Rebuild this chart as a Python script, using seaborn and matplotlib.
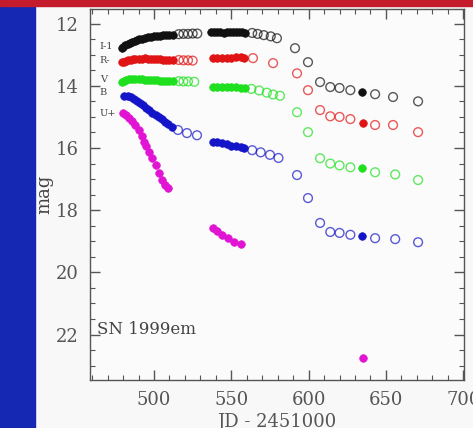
import matplotlib
matplotlib.use("Agg")
import matplotlib.pyplot as plt
from matplotlib.patches import Rectangle
from matplotlib.ticker import MultipleLocator
import seaborn as sns
import pandas as pd

# ---------------- data (JD - 2451000, magnitude) ----------------
I_fill_jd = [479, 480, 481.5, 483, 484.5, 486, 487.5, 489, 490.5, 492, 494, 496, 498, 500, 502, 504, 506, 508, 510, 512,
             537, 539, 541, 543, 545, 547, 549, 551, 553, 555, 557, 559, 634.5]
I_fill_mag = [12.78, 12.74, 12.70, 12.66, 12.62, 12.59, 12.56, 12.53, 12.50, 12.48, 12.46, 12.44, 12.42, 12.41, 12.40, 12.39, 12.38, 12.37, 12.36, 12.35,
              12.28, 12.28, 12.27, 12.28, 12.29, 12.28, 12.27, 12.28, 12.28, 12.27, 12.28, 12.29, 14.20]
I_open_jd = [516, 519, 522, 525, 528, 563.5, 567, 571, 575.5, 579.5, 591.2, 599.6, 607.4, 614, 620, 627, 643, 654.6, 670.8]
I_open_mag = [12.34, 12.33, 12.33, 12.32, 12.32, 12.30, 12.33, 12.37, 12.41, 12.47, 12.79, 13.24, 13.88, 14.04, 14.07, 14.14, 14.27, 14.36, 14.50]

R_fill_jd = [479, 480.5, 482, 483.5, 485, 486.5, 488, 490, 492, 494, 496, 498, 500, 502, 504, 506, 508, 510, 512,
             538, 541, 544, 547, 550, 553, 556, 558, 635]
R_fill_mag = [13.25, 13.22, 13.20, 13.18, 13.16, 13.15, 13.14, 13.13, 13.13, 13.12, 13.13, 13.14, 13.14, 13.15, 13.15, 13.16, 13.16, 13.17, 13.17,
              13.10, 13.09, 13.10, 13.10, 13.09, 13.08, 13.08, 13.10, 15.20]
R_open_jd = [516, 519, 522, 525, 564, 577, 592.5, 599.6, 607.4, 614, 620, 627, 643, 654.6, 670.8]
R_open_mag = [13.17, 13.18, 13.18, 13.19, 13.11, 13.27, 13.60, 14.14, 14.78, 14.98, 15.00, 15.07, 15.26, 15.26, 15.49]

V_fill_jd = [479, 480.5, 482, 484, 486, 488, 490, 492, 494, 496, 498, 500, 502, 504, 506, 508, 510, 512,
             538, 541, 544, 547, 550, 553, 556, 559, 634.5]
V_fill_mag = [13.88, 13.84, 13.81, 13.79, 13.78, 13.78, 13.79, 13.79, 13.80, 13.80, 13.81, 13.82, 13.82, 13.83, 13.83, 13.84, 13.84, 13.85,
              14.03, 14.03, 14.04, 14.04, 14.05, 14.05, 14.06, 14.06, 16.65]
V_open_jd = [516, 519, 522, 526, 563, 568, 573, 577, 581.5, 592.5, 599.6, 607.4, 614, 620, 627, 643, 656, 670.8]
V_open_mag = [13.85, 13.86, 13.86, 13.87, 14.10, 14.15, 14.22, 14.28, 14.32, 14.85, 15.49, 16.33, 16.50, 16.56, 16.62, 16.78, 16.85, 17.03]

B_fill_jd = [480.5, 483, 485, 487, 489, 491, 493, 495, 497, 499, 501, 503, 505, 507, 509, 511.5,
             538, 541, 544, 547, 550, 553, 556, 558, 634.5]
B_fill_mag = [14.32, 14.33, 14.37, 14.42, 14.48, 14.55, 14.62, 14.70, 14.79, 14.87, 14.94, 15.01, 15.08, 15.16, 15.24, 15.33,
              15.81, 15.82, 15.84, 15.88, 15.92, 15.95, 15.98, 16.01, 18.83]
B_open_jd = [515.5, 521.3, 527.8, 563.5, 569, 575, 580.5, 592.5, 599.6, 607.4, 614, 620, 627, 643, 656, 670.8]
B_open_mag = [15.42, 15.52, 15.59, 16.07, 16.14, 16.22, 16.32, 16.87, 17.61, 18.41, 18.70, 18.73, 18.79, 18.90, 18.93, 19.03]

U_fill_jd = [480, 482, 484, 486, 488, 490, 492, 493.5, 495, 497, 499, 501, 503, 505, 507, 509,
             538, 541, 544, 548, 552, 556, 635]
U_fill_mag = [14.88, 14.95, 15.03, 15.12, 15.25, 15.42, 15.62, 15.80, 15.95, 16.12, 16.33, 16.55, 16.80, 17.02, 17.18, 17.29,
              18.58, 18.68, 18.80, 18.90, 19.02, 19.09, 22.75]
U_open_jd = []
U_open_mag = []

bands = ["I", "R", "V", "B", "U"]
band_labels = ["I-1", "R-", "V", "B", "U+"]
band_label_mag = [12.72, 13.2, 13.8, 14.2, 14.88]
colors = {"I": "#111111", "R": "#e01414", "V": "#1ee01e", "B": "#1414c8", "U": "#e014d2"}

fill_data = {"I": (I_fill_jd, I_fill_mag), "R": (R_fill_jd, R_fill_mag), "V": (V_fill_jd, V_fill_mag),
             "B": (B_fill_jd, B_fill_mag), "U": (U_fill_jd, U_fill_mag)}
open_data = {"I": (I_open_jd, I_open_mag), "R": (R_open_jd, R_open_mag), "V": (V_open_jd, V_open_mag),
             "B": (B_open_jd, B_open_mag), "U": (U_open_jd, U_open_mag)}

rows = []
for b in bands:
    for j, m in zip(*fill_data[b]):
        rows.append({"band": b, "jd": j, "mag": m, "kind": "filled"})
    for j, m in zip(*open_data[b]):
        rows.append({"band": b, "jd": j, "mag": m, "kind": "open"})
df = pd.DataFrame(rows)

# ---------------- figure ----------------
sns.set_theme(style="ticks")
plt.rcParams["font.family"] = ["DejaVu Serif", "DejaVu Sans"]

fig = plt.figure(figsize=(4.73, 4.28), dpi=100, facecolor="#f8f8f8")
fig.patches.append(Rectangle((0, 0), 35 / 473, 1, transform=fig.transFigure, color="#1428b4", zorder=0))
fig.patches.append(Rectangle((0, 1 - 6 / 428), 1, 6 / 428, transform=fig.transFigure, color="#c41c2c", zorder=0))

ax = fig.add_axes([90 / 473, 1 - 380 / 428, 374 / 473, 371 / 428])
ax.set_facecolor("#fbfbfb")

for b in bands:
    sub_f = df[(df.band == b) & (df.kind == "filled")]
    sub_o = df[(df.band == b) & (df.kind == "open")]
    if len(sub_o):
        sns.scatterplot(data=sub_o, x="jd", y="mag", ax=ax, marker="o", s=40,
                        facecolor="none", edgecolor=colors[b], linewidth=1.0, alpha=0.7, legend=False)
    sns.scatterplot(data=sub_f, x="jd", y="mag", ax=ax, marker="o", s=30,
                    color=colors[b], edgecolor=colors[b], linewidth=0.5, legend=False)

for lab, m in zip(band_labels, band_label_mag):
    ax.text(465, m, lab, fontsize=7, color="#444444", va="center", ha="left")

ax.text(463, 21.85, "SN 1999em", fontsize=12, color="#444444", va="center", ha="left")

ax.set_xlim(458.6, 700.5)
ax.set_ylim(23.46, 11.53)
ax.xaxis.set_major_locator(MultipleLocator(50))
ax.xaxis.set_minor_locator(MultipleLocator(10))
ax.yaxis.set_major_locator(MultipleLocator(2))
ax.yaxis.set_minor_locator(MultipleLocator(0.5))
ax.tick_params(which="both", direction="in", top=True, right=True, color="#555555")
ax.tick_params(which="major", length=7, width=1, labelsize=13, labelcolor="#555555", pad=8)
ax.tick_params(which="minor", length=3.5, width=0.8)
for sp in ax.spines.values():
    sp.set_color("#555555")
    sp.set_linewidth(1)

ax.set_xlabel("JD - 2451000", fontsize=13, color="#555555", labelpad=3)
ax.set_ylabel("mag", fontsize=13, color="#444444", labelpad=2)

fig.savefig("out.png", dpi=100, facecolor=fig.get_facecolor())
